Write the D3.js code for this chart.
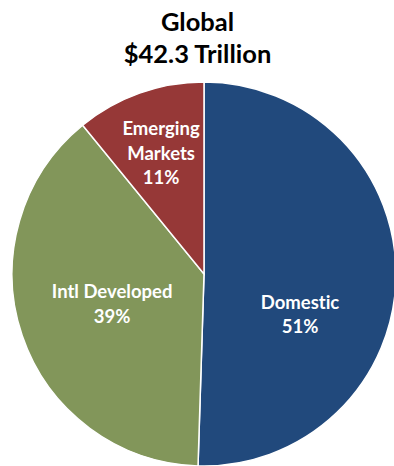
<!DOCTYPE html>
<html>
<head>
<meta charset="utf-8">
<script src="https://cdn.jsdelivr.net/npm/d3@7"></script>
<style>
  body { margin: 0; background: #fff; }
  svg text { font-family: Lato, "Open Sans", sans-serif; font-weight: bold; font-variant-ligatures: none; }
</style>
</head>
<body>
<div id="chart"></div>
<script>
const categories = ["Domestic", "Intl Developed", "Emerging Markets"];
const shares = [51, 39, 11];
const labelLines = [["Domestic", "51%"], ["Intl Developed", "39%"], ["Emerging", "Markets", "11%"]];
const titleLines = ["Global", "$42.3 Trillion"];
const colors = ["#21497c", "#82965a", "#963837"];

const width = 394, height = 466;
const cx = 204, cy = 274, radius = 192;

const svg = d3.select("#chart")
    .append("svg")
    .attr("width", width)
    .attr("height", height);

svg.selectAll(".title")
    .data(titleLines)
    .enter().append("text")
    .attr("class", "title")
    .attr("x", 197.5)
    .attr("y", (d, i) => 31 + i * 32)
    .attr("text-anchor", "middle")
    .style("font-size", "25.5px")
    .style("fill", "#000")
    .text(d => d);

const g = svg.append("g")
    .attr("transform", `translate(${cx}, ${cy})`);

const pie = d3.pie().sort(null).value(d => d);
const arcs = pie(shares);

const arc = d3.arc().innerRadius(0).outerRadius(radius);

g.selectAll(".slice")
    .data(arcs)
    .enter().append("path")
    .attr("class", "slice")
    .attr("d", arc)
    .style("fill", (d, i) => colors[i])
    .style("stroke", "#fff")
    .style("stroke-width", 1.5);

// label placement (Excel "best fit"-ish), radius + vertical nudge per slice
const labelRadius = [96, 97, 128];
const labelNudge = [39, -1, 0];

arcs.forEach(function(a, i) {
    const mid = (a.startAngle + a.endAngle) / 2;
    const x = Math.sin(mid) * labelRadius[i];
    const y = -Math.cos(mid) * labelRadius[i] + labelNudge[i];
    const lines = labelLines[i];
    const lh = 24.5;
    const t = g.append("text")
        .attr("text-anchor", "middle")
        .style("font-size", "18.5px")
        .style("fill", "#fff");
    lines.forEach(function(l, j) {
        t.append("tspan")
            .attr("x", x)
            .attr("y", y + (j - (lines.length - 1) / 2) * lh + 6.5)
            .text(l);
    });
});
</script>
</body>
</html>
